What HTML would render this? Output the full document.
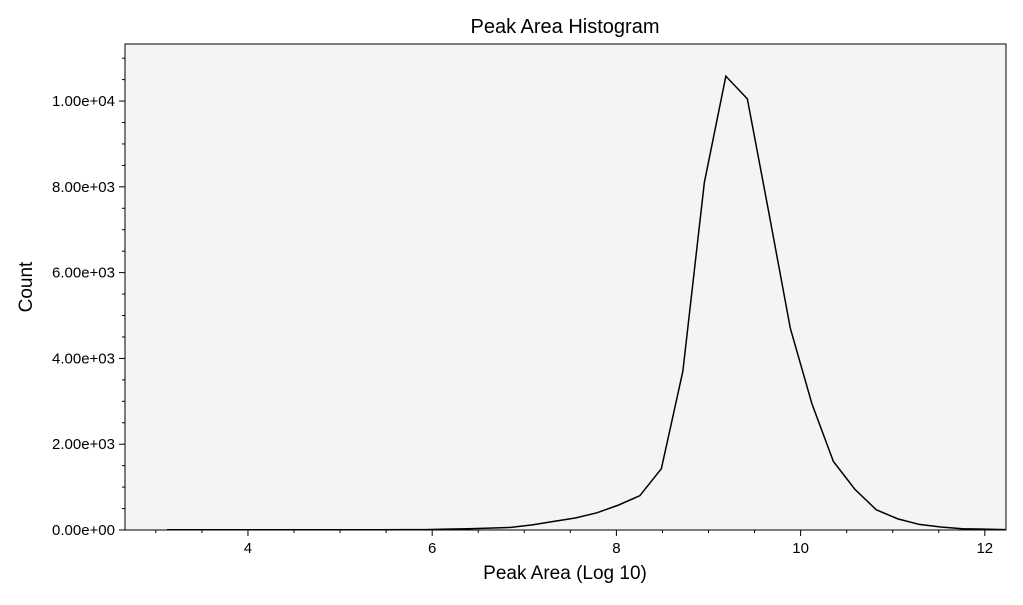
<!DOCTYPE html>
<html><head><meta charset="utf-8"><style>
body{margin:0;background:#fff;font-family:"Liberation Sans",Arial,sans-serif}
svg text{font-family:"Liberation Sans",Arial,sans-serif;fill:#000}
</style></head><body>
<svg id="chart" width="1023" height="600" xmlns="http://www.w3.org/2000/svg">
<rect x="0" y="0" width="1023" height="600" fill="#fff"/>
<rect x="125" y="44" width="881" height="486" fill="#f4f4f4"/>
<g id="ticks"></g>
<path id="line" fill="none" stroke="#000" stroke-width="1.5"/>
<rect x="125" y="44" width="881" height="486" fill="none" stroke="#000" stroke-width="1"/>
<text x="565" y="33" font-size="20" text-anchor="middle">Peak Area Histogram</text>
<text x="565" y="579" font-size="19" text-anchor="middle">Peak Area (Log 10)</text>
<text x="32" y="287" font-size="19" text-anchor="middle" transform="rotate(-90 32 287)">Count</text>
</svg>
<script>
const binStart = 3.12;
const binStep = 0.2334;
const counts = [5,5,5,5,5,5,5,5,6,6,7,8,10,20,30,45,60,120,200,280,400,580,800,1430,3700,8100,10580,10050,7400,4700,2950,1600,950,470,260,130,70,30,20,10];
const xTicks = [4,6,8,10,12];
const yTicks = [0,2000,4000,6000,8000,10000];
const yTickLabels = ["0.00e+00","2.00e+03","4.00e+03","6.00e+03","8.00e+03","1.00e+04"];
const X0=125,X1=1006,Y0=530,Y1=44, XMIN=2.665, XMAX=12.23, YMIN=0, YMAX=11330;
function sx(v){return X0+(v-XMIN)/(XMAX-XMIN)*(X1-X0);}
function sy(v){return Y0-(v-YMIN)/(YMAX-YMIN)*(Y0-Y1);}
const NS="http://www.w3.org/2000/svg";
const g=document.getElementById('ticks');
function line(x1,y1,x2,y2,name){const l=document.createElementNS(NS,'line');l.setAttribute('x1',x1);l.setAttribute('y1',y1);l.setAttribute('x2',x2);l.setAttribute('y2',y2);l.setAttribute('stroke','#000');l.setAttribute('stroke-width','1');


g.appendChild(l);}
function text(x,y,s,anchor,name){const t=document.createElementNS(NS,'text');t.setAttribute('x',x);t.setAttribute('y',y);t.setAttribute('font-size','15');t.setAttribute('text-anchor',anchor);t.textContent=s;


g.appendChild(t);}
for(let v=3;v<=12.2;v+=0.5){const x=sx(v);if(xTicks.indexOf(v)<0)line(x,530,x,533,'x-minor-tick');}
xTicks.forEach(v=>{const x=sx(v);line(x,530,x,536,'x-major-tick');text(x,553,String(v),'middle','x-tick-label');});
for(let v=500;v<=YMAX;v+=500){if(v%2000!==0){const y=sy(v);line(122,y,125,y,'y-minor-tick');}}
yTicks.forEach((v,i)=>{const y=sy(v);line(119,y,125,y,'y-major-tick');text(115,y+5,yTickLabels[i],'end','y-tick-label');});
const d=counts.map((c,i)=>(i?'L':'M')+sx(binStart+i*binStep).toFixed(2)+','+sy(c).toFixed(2)).join(' ');
document.getElementById('line').setAttribute('d',d);
</script>
</body></html>
